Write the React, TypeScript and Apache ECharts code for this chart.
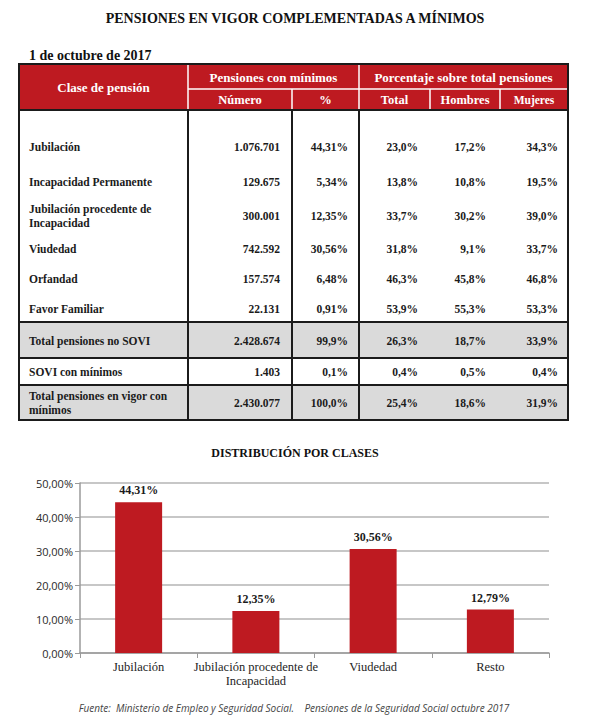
import React, { useEffect, useRef } from "react";
import * as echarts from "echarts";

// ---------- DATA ----------
const pageTitle = "PENSIONES EN VIGOR COMPLEMENTADAS A MÍNIMOS";
const dateLabel = "1 de octubre de 2017";
const headerGroups = ["Clase de pensión", "Pensiones con mínimos", "Porcentaje sobre total pensiones"];
const headerSub = ["Número", "%", "Total", "Hombres", "Mujeres"];
const rowLabels = [
  "Jubilación",
  "Incapacidad Permanente",
  "Jubilación procedente de\nIncapacidad",
  "Viudedad",
  "Orfandad",
  "Favor Familiar",
  "Total pensiones no SOVI",
  "SOVI con mínimos",
  "Total pensiones en vigor con\nmínimos",
];
const numeroCol = ["1.076.701", "129.675", "300.001", "742.592", "157.574", "22.131", "2.428.674", "1.403", "2.430.077"];
const pctCol = ["44,31%", "5,34%", "12,35%", "30,56%", "6,48%", "0,91%", "99,9%", "0,1%", "100,0%"];
const totalCol = ["23,0%", "13,8%", "33,7%", "31,8%", "46,3%", "53,9%", "26,3%", "0,4%", "25,4%"];
const hombresCol = ["17,2%", "10,8%", "30,2%", "9,1%", "45,8%", "55,3%", "18,7%", "0,5%", "18,6%"];
const mujeresCol = ["34,3%", "19,5%", "39,0%", "33,7%", "46,8%", "53,3%", "33,9%", "0,4%", "31,9%"];

const chartTitle = "DISTRIBUCIÓN POR CLASES";
const barCategories = ["Jubilación", "Jubilación procedente de\nIncapacidad", "Viudedad", "Resto"];
const barValues = [44.31, 12.35, 30.56, 12.79];
const sourceText = "Fuente:  Ministerio de Empleo y Seguridad Social.    Pensiones de la Seguridad Social octubre 2017";

// ---------- LAYOUT ----------
const SERIF = "'Liberation Serif', 'DejaVu Serif', serif";
const RED = "#be1a21";
const DARK = "#1b1b1b";
const GRAY = "#dadada";
const T_LEFT = 19;
const T_RIGHT = 568;
const T_TOP = 64;
const H_MID = 89;
const H_BOT = 110;
const T_BOT = 420;
const colX = [T_LEFT, 188, 292, 359, 430, 500, T_RIGHT];
const rowY = [147, 182, 216, 249, 279, 309, 341, 372, 403];
const sepY = [322, 358, 385];
const grayBands = [
  [322, 358],
  [385, 420],
];

function fmtPct(v: number) {
  return v.toFixed(2).replace(".", ",") + "%";
}

function buildGraphic() {
  const els: any[] = [];
  const txt = (text: string, x: number, y: number, o: any = {}) => ({
    type: "text",
    silent: true,
    z: 10,
    style: {
      text,
      x,
      y,
      fill: o.fill || DARK,
      fontFamily: o.fontFamily || SERIF,
      fontSize: o.fontSize || 12,
      fontWeight: o.fontWeight || "bold",
      fontStyle: o.fontStyle || "normal",
      textAlign: o.align || "left",
      textVerticalAlign: "middle",
      lineHeight: o.lineHeight || 14,
    },
  });
  const line = (x1: number, y1: number, x2: number, y2: number, stroke: string, w: number) => ({
    type: "line",
    silent: true,
    z: 5,
    shape: { x1, y1, x2, y2 },
    style: { stroke, lineWidth: w },
  });

  els.push(txt(pageTitle, 295, 18, { fontSize: 14, align: "center", fill: "#111" }));
  els.push(txt(dateLabel, 29, 55, { fontSize: 14, fill: "#111" }));

  // header background
  els.push({ type: "rect", silent: true, z: 1, shape: { x: T_LEFT, y: T_TOP, width: T_RIGHT - T_LEFT, height: H_BOT - T_TOP }, style: { fill: RED } });
  // body background bands
  grayBands.forEach(([a, b]) => {
    els.push({ type: "rect", silent: true, z: 1, shape: { x: T_LEFT, y: a, width: T_RIGHT - T_LEFT, height: b - a }, style: { fill: GRAY } });
  });
  // header white lines
  els.push(line(colX[1], H_MID, T_RIGHT, H_MID, "#ffffff", 1.5));
  els.push(line(colX[1], T_TOP, colX[1], H_BOT, "#ffffff", 1.5));
  els.push(line(colX[3], T_TOP, colX[3], H_BOT, "#ffffff", 1.5));
  [2, 4, 5].forEach((i) => els.push(line(colX[i], H_MID, colX[i], H_BOT, "#ffffff", 1.5)));
  // body dark lines
  [1, 2, 3].forEach((i) => els.push(line(colX[i], H_BOT, colX[i], T_BOT, DARK, 2)));
  els.push(line(T_LEFT, H_BOT, T_RIGHT, H_BOT, DARK, 2));
  sepY.forEach((y) => els.push(line(T_LEFT, y, T_RIGHT, y, DARK, 2)));
  // outer border
  els.push({ type: "rect", silent: true, z: 6, shape: { x: T_LEFT, y: T_TOP, width: T_RIGHT - T_LEFT, height: T_BOT - T_TOP }, style: { fill: "none", stroke: DARK, lineWidth: 2 } });

  // header texts
  els.push(txt(headerGroups[0], (colX[0] + colX[1]) / 2, 87, { align: "center", fill: "#fff", fontSize: 13 }));
  els.push(txt(headerGroups[1], (colX[1] + colX[3]) / 2, 77, { align: "center", fill: "#fff", fontSize: 13 }));
  els.push(txt(headerGroups[2], (colX[3] + colX[6]) / 2, 77, { align: "center", fill: "#fff", fontSize: 13 }));
  headerSub.forEach((h, i) => {
    els.push(txt(h, (colX[i + 1] + colX[i + 2]) / 2, 100, { align: "center", fill: "#fff", fontSize: i === 4 ? 11.5 : 12.5 }));
  });

  // body texts
  const valueCols = [numeroCol, pctCol, totalCol, hombresCol, mujeresCol];
  const rightEdges = [280, 348, 418, 486, 558];
  rowLabels.forEach((lab, r) => {
    els.push(txt(lab, 29, rowY[r], { fontSize: 11.5 }));
    valueCols.forEach((col, c) => {
      els.push(txt(col[r], rightEdges[c], rowY[r], { align: "right", fontSize: 11.5 }));
    });
  });

  // chart title & source
  els.push(txt(chartTitle, 295, 453, { align: "center", fontSize: 12, fill: "#111" }));
  els.push(
    txt(sourceText, 294, 708, {
      align: "center",
      fontSize: 10,
      fontWeight: "normal",
      fontStyle: "italic",
      fontFamily: "'Open Sans', 'Noto Sans', sans-serif",
      fill: "#444",
    })
  );
  return els;
}

export default function App() {
  const ref = useRef<HTMLDivElement>(null);
  useEffect(() => {
    if (!ref.current) return;
    const chart = echarts.init(ref.current, null, { renderer: "svg" });
    chart.setOption({
      animation: false,
      backgroundColor: "#ffffff",
      grid: { left: 80, right: 51, top: 483, bottom: 71, containLabel: false },
      xAxis: {
        type: "category",
        data: barCategories,
        axisLine: { lineStyle: { color: "#9a9a9a", width: 1.5 } },
        axisTick: { show: true, length: 5, lineStyle: { color: "#9a9a9a" } },
        axisLabel: {
          color: "#1e1e1e",
          fontFamily: SERIF,
          fontSize: 12.5,
          fontWeight: "normal",
          lineHeight: 14,
          margin: 7,
          interval: 0,
        },
      },
      yAxis: {
        type: "value",
        min: 0,
        max: 50,
        interval: 10,
        axisLine: { show: true, lineStyle: { color: "#9a9a9a", width: 1.5 } },
        axisTick: { show: true, length: 5, lineStyle: { color: "#9a9a9a" } },
        axisLabel: {
          formatter: (v: number) => fmtPct(v),
          color: "#2a2a2a",
          fontFamily: "'Open Sans', 'Noto Sans', sans-serif",
          fontSize: 11,
          margin: 7,
        },
        splitLine: { lineStyle: { color: "#b4b4b4", width: 1.5 } },
      },
      series: [
        {
          type: "bar",
          data: barValues,
          barWidth: 47,
          itemStyle: { color: RED },
          label: {
            show: true,
            position: "top",
            distance: 6,
            formatter: (p: any) => fmtPct(p.value),
            fontFamily: SERIF,
            fontWeight: "bold",
            fontSize: 12,
            color: "#1b1b1b",
          },
        },
      ],
      graphic: buildGraphic(),
    });
    return () => chart.dispose();
  }, []);
  return <div ref={ref} style={{ position: "absolute", left: 0, top: 0, width: 600, height: 724 }} />;
}
